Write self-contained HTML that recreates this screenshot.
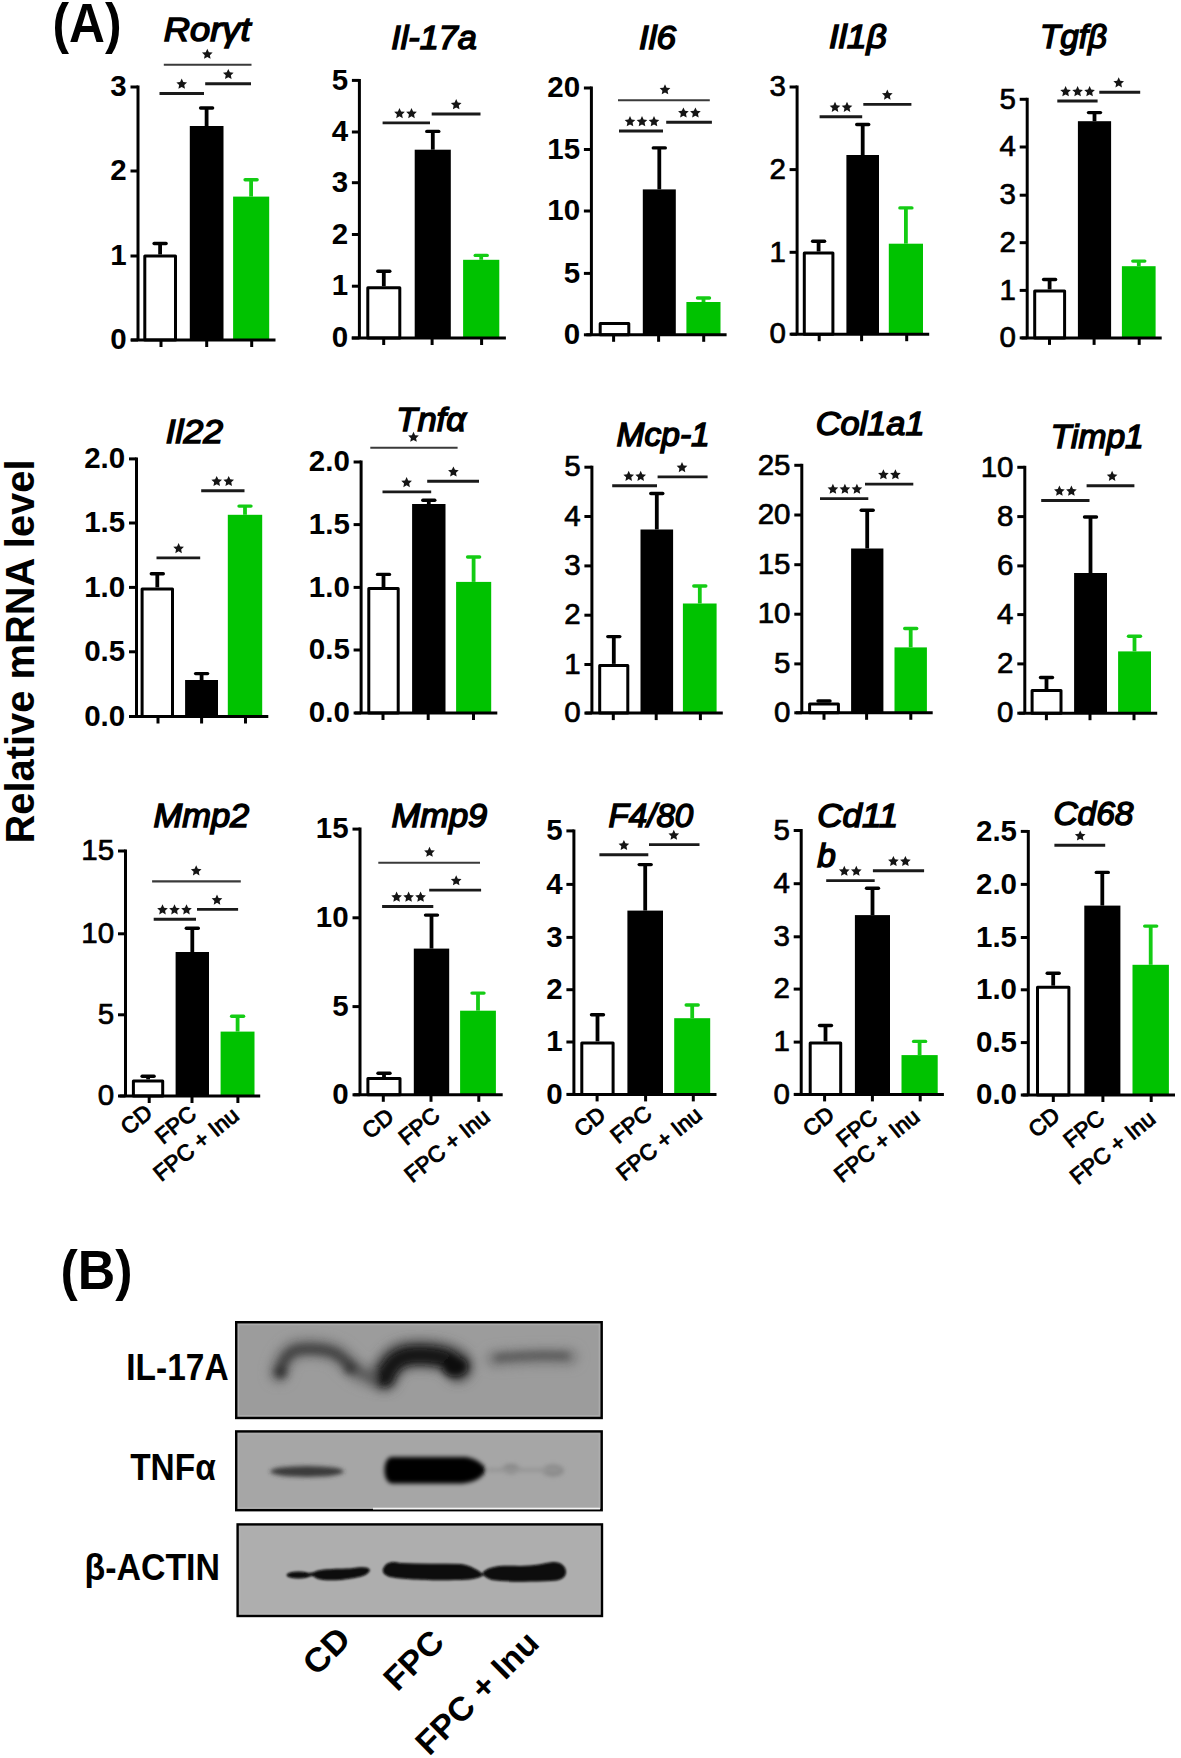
<!DOCTYPE html>
<html><head><meta charset="utf-8"><title>Figure</title>
<style>
html,body{margin:0;padding:0;background:#fff;}
svg{display:block;}
text{font-family:"Liberation Sans",sans-serif;font-weight:bold;fill:#000;}
.ti{font-style:italic;font-size:33.4px;font-weight:normal;stroke:#000;stroke-width:1.5px;}
.tk{font-size:29.5px;text-anchor:end;font-weight:bold;stroke:none;}
.tkn{font-weight:normal;stroke:#000;stroke-width:0.7px;}
.st{font-size:22px;text-anchor:middle;}
.xl{font-size:22.5px;text-anchor:end;font-weight:normal;stroke:#000;stroke-width:0.95px;}
.bx{font-size:33.5px;text-anchor:end;}
.bl{font-size:37px;}
.pl{font-size:55.5px;}
.yl{font-size:41px;}
.ax{stroke:#000;stroke-width:3;fill:none;}
.bw{fill:#fff;stroke:#000;stroke-width:3;stroke-linejoin:round;}
.sg{stroke:#1a1a1a;stroke-width:2.9;fill:none;}
.sgl{stroke:#3a3a3a;stroke-width:2.1;fill:none;}
</style></head>
<body>
<svg width="1181" height="1758" viewBox="0 0 1181 1758">
<rect width="1181" height="1758" fill="#fff"/>
<defs><polygon id="star" points="0.00,-5.10 1.58,-1.67 5.33,-1.23 2.56,1.33 3.29,5.03 0.00,3.19 -3.29,5.03 -2.56,1.33 -5.33,-1.23 -1.58,-1.67" fill="#151515"/></defs>
<text class="ti" x="163.8" y="41.4" textLength="86.8" lengthAdjust="spacingAndGlyphs">Rorγt</text>
<path class="ax" d="M138 85.5V340"/>
<path class="ax" d="M130.5 87H138"/>
<text class="tk" x="126.7" y="96.2">3</text>
<path class="ax" d="M130.5 171H138"/>
<text class="tk" x="126.7" y="180.2">2</text>
<path class="ax" d="M130.5 256H138"/>
<text class="tk" x="126.7" y="265.2">1</text>
<path class="ax" d="M130.5 340H138"/>
<text class="tk" x="126.7" y="349.2">0</text>
<rect class="bw" x="144.8" y="256" width="30.7" height="84"/>
<path d="M160.1 254.5V243.5" stroke="#000" stroke-width="3.8" fill="none"/>
<path d="M154.1 243.5H166.1" stroke="#000" stroke-width="3.4" fill="none" stroke-linecap="round"/>
<rect x="189.8" y="126" width="33.7" height="214" fill="#000"/>
<path d="M206.6 126V108" stroke="#000" stroke-width="3.8" fill="none"/>
<path d="M200.6 108H212.6" stroke="#000" stroke-width="3.4" fill="none" stroke-linecap="round"/>
<rect x="233.1" y="196.6" width="36.1" height="143.4" fill="#00c200"/>
<path d="M251.1 196.6V179.8" stroke="#14cc14" stroke-width="3.8" fill="none"/>
<path d="M245.1 179.8H257.1" stroke="#14cc14" stroke-width="3.4" fill="none" stroke-linecap="round"/>
<path class="ax" d="M131 340H275.5"/>
<path class="ax" d="M161 340V347"/>
<path class="ax" d="M206.7 340V347"/>
<path class="ax" d="M251.7 340V347"/>
<path class="sg" d="M159.5 93.5H204"/>
<use href="#star" x="181.7" y="83.7"/>
<path class="sg" d="M205.2 83.8H251"/>
<use href="#star" x="228.3" y="74"/>
<path class="sgl" d="M163.8 64.8H251.5"/>
<use href="#star" x="207.3" y="53.8"/>
<text class="ti" x="391.2" y="48.5" textLength="85.5" lengthAdjust="spacingAndGlyphs">Il-17a</text>
<path class="ax" d="M359.4 78.9V338"/>
<path class="ax" d="M351.9 80.4H359.4"/>
<text class="tk" x="348.1" y="89.6">5</text>
<path class="ax" d="M351.9 132H359.4"/>
<text class="tk" x="348.1" y="141.2">4</text>
<path class="ax" d="M351.9 182.7H359.4"/>
<text class="tk" x="348.1" y="191.9">3</text>
<path class="ax" d="M351.9 234.5H359.4"/>
<text class="tk" x="348.1" y="243.7">2</text>
<path class="ax" d="M351.9 286.2H359.4"/>
<text class="tk" x="348.1" y="295.4">1</text>
<path class="ax" d="M351.9 338H359.4"/>
<text class="tk" x="348.1" y="347.2">0</text>
<rect class="bw" x="367.8" y="287.7" width="32" height="50.3"/>
<path d="M383.8 286.2V271.2" stroke="#000" stroke-width="3.8" fill="none"/>
<path d="M377.8 271.2H389.8" stroke="#000" stroke-width="3.4" fill="none" stroke-linecap="round"/>
<rect x="414.7" y="149.7" width="36.1" height="188.3" fill="#000"/>
<path d="M432.8 149.7V131.4" stroke="#000" stroke-width="3.8" fill="none"/>
<path d="M426.8 131.4H438.8" stroke="#000" stroke-width="3.4" fill="none" stroke-linecap="round"/>
<rect x="463.1" y="259.8" width="36.2" height="78.2" fill="#00c200"/>
<path d="M481.2 259.8V255.4" stroke="#14cc14" stroke-width="3.8" fill="none"/>
<path d="M475.2 255.4H487.2" stroke="#14cc14" stroke-width="3.4" fill="none" stroke-linecap="round"/>
<path class="ax" d="M351.7 338H505.9"/>
<path class="ax" d="M383.7 338V345"/>
<path class="ax" d="M432.1 338V345"/>
<path class="ax" d="M481.6 338V345"/>
<path class="sg" d="M382.6 122.9H430"/>
<use href="#star" x="399.5" y="113.1"/>
<use href="#star" x="411.5" y="113.1"/>
<path class="sg" d="M431.7 114H480.5"/>
<use href="#star" x="456.2" y="104.2"/>
<text class="ti" x="639" y="48.5" textLength="37" lengthAdjust="spacingAndGlyphs">Il6</text>
<path class="ax" d="M591.4 86.5V334.8"/>
<path class="ax" d="M583.9 88H591.4"/>
<text class="tk" x="580.1" y="97.2">20</text>
<path class="ax" d="M583.9 149.5H591.4"/>
<text class="tk" x="580.1" y="158.7">15</text>
<path class="ax" d="M583.9 211H591.4"/>
<text class="tk" x="580.1" y="220.2">10</text>
<path class="ax" d="M583.9 273.4H591.4"/>
<text class="tk" x="580.1" y="282.6">5</text>
<path class="ax" d="M583.9 334.8H591.4"/>
<text class="tk" x="580.1" y="344">0</text>
<rect class="bw" x="600.2" y="323.5" width="28.6" height="11.3"/>
<rect x="642.8" y="189.4" width="33" height="145.4" fill="#000"/>
<path d="M659.3 189.4V147.9" stroke="#000" stroke-width="3.8" fill="none"/>
<path d="M653.3 147.9H665.3" stroke="#000" stroke-width="3.4" fill="none" stroke-linecap="round"/>
<rect x="686.4" y="302" width="34.1" height="32.8" fill="#00c200"/>
<path d="M703.5 302V298" stroke="#14cc14" stroke-width="3.8" fill="none"/>
<path d="M697.5 298H709.5" stroke="#14cc14" stroke-width="3.4" fill="none" stroke-linecap="round"/>
<path class="ax" d="M586.3 334.8H726.6"/>
<path class="ax" d="M613.6 334.8V341.8"/>
<path class="ax" d="M658.6 334.8V341.8"/>
<path class="ax" d="M703.7 334.8V341.8"/>
<path class="sg" d="M619 131H663"/>
<use href="#star" x="630" y="121.2"/>
<use href="#star" x="642" y="121.2"/>
<use href="#star" x="654" y="121.2"/>
<path class="sg" d="M666.2 122.3H711.9"/>
<use href="#star" x="683.4" y="112.5"/>
<use href="#star" x="695.4" y="112.5"/>
<path class="sgl" d="M618 100.3H709.8"/>
<use href="#star" x="665" y="89.3"/>
<text class="ti" x="828.9" y="48.3" textLength="57.8" lengthAdjust="spacingAndGlyphs">Il1β</text>
<path class="ax" d="M797.1 85.5V334.2"/>
<path class="ax" d="M789.6 87H797.1"/>
<text class="tk tkn" x="785.8" y="96.2">3</text>
<path class="ax" d="M789.6 169.6H797.1"/>
<text class="tk tkn" x="785.8" y="178.8">2</text>
<path class="ax" d="M789.6 252.3H797.1"/>
<text class="tk tkn" x="785.8" y="261.5">1</text>
<path class="ax" d="M789.6 334.2H797.1"/>
<text class="tk tkn" x="785.8" y="343.4">0</text>
<rect class="bw" x="804.3" y="253" width="28.6" height="81.2"/>
<path d="M818.6 251.5V241.2" stroke="#000" stroke-width="3.8" fill="none"/>
<path d="M812.6 241.2H824.6" stroke="#000" stroke-width="3.4" fill="none" stroke-linecap="round"/>
<rect x="846.4" y="155" width="32.6" height="179.2" fill="#000"/>
<path d="M862.7 155V124.5" stroke="#000" stroke-width="3.8" fill="none"/>
<path d="M856.7 124.5H868.7" stroke="#000" stroke-width="3.4" fill="none" stroke-linecap="round"/>
<rect x="888.8" y="243.7" width="34.2" height="90.5" fill="#00c200"/>
<path d="M905.9 243.7V207.9" stroke="#14cc14" stroke-width="3.8" fill="none"/>
<path d="M899.9 207.9H911.9" stroke="#14cc14" stroke-width="3.4" fill="none" stroke-linecap="round"/>
<path class="ax" d="M791 334.2H929.2"/>
<path class="ax" d="M819.2 334.2V341.2"/>
<path class="ax" d="M861.6 334.2V341.2"/>
<path class="ax" d="M906.7 334.2V341.2"/>
<path class="sg" d="M819.6 116.7H862.2"/>
<use href="#star" x="835" y="106.9"/>
<use href="#star" x="847" y="106.9"/>
<path class="sg" d="M863.3 104.4H911.4"/>
<use href="#star" x="887.3" y="94.6"/>
<text class="ti" x="1039.9" y="48.3" textLength="67.1" lengthAdjust="spacingAndGlyphs">Tgfβ</text>
<path class="ax" d="M1027.2 97.8V337.9"/>
<path class="ax" d="M1019.7 99.3H1027.2"/>
<text class="tk tkn" x="1015.9" y="108.5">5</text>
<path class="ax" d="M1019.7 147H1027.2"/>
<text class="tk tkn" x="1015.9" y="156.2">4</text>
<path class="ax" d="M1019.7 195.2H1027.2"/>
<text class="tk tkn" x="1015.9" y="204.4">3</text>
<path class="ax" d="M1019.7 242.7H1027.2"/>
<text class="tk tkn" x="1015.9" y="251.9">2</text>
<path class="ax" d="M1019.7 290.4H1027.2"/>
<text class="tk tkn" x="1015.9" y="299.6">1</text>
<path class="ax" d="M1019.7 337.9H1027.2"/>
<text class="tk tkn" x="1015.9" y="347.1">0</text>
<rect class="bw" x="1034.7" y="290.9" width="29.9" height="47"/>
<path d="M1049.6 289.4V279.5" stroke="#000" stroke-width="3.8" fill="none"/>
<path d="M1043.6 279.5H1055.6" stroke="#000" stroke-width="3.4" fill="none" stroke-linecap="round"/>
<rect x="1077.9" y="121.2" width="33.2" height="216.7" fill="#000"/>
<path d="M1094.5 121.2V112.6" stroke="#000" stroke-width="3.8" fill="none"/>
<path d="M1088.5 112.6H1100.5" stroke="#000" stroke-width="3.4" fill="none" stroke-linecap="round"/>
<rect x="1121.9" y="266.2" width="33.7" height="71.7" fill="#00c200"/>
<path d="M1138.8 266.2V261.1" stroke="#14cc14" stroke-width="3.8" fill="none"/>
<path d="M1132.8 261.1H1144.8" stroke="#14cc14" stroke-width="3.4" fill="none" stroke-linecap="round"/>
<path class="ax" d="M1021.4 337.9H1161.7"/>
<path class="ax" d="M1049.5 337.9V344.9"/>
<path class="ax" d="M1094.1 337.9V344.9"/>
<path class="ax" d="M1139.2 337.9V344.9"/>
<path class="sg" d="M1057.3 101H1097.6"/>
<use href="#star" x="1065.6" y="91.2"/>
<use href="#star" x="1077.6" y="91.2"/>
<use href="#star" x="1089.6" y="91.2"/>
<path class="sg" d="M1099.3 92.2H1140.2"/>
<use href="#star" x="1118.7" y="82.4"/>
<text class="ti" x="165.7" y="442.9" textLength="57.4" lengthAdjust="spacingAndGlyphs">Il22</text>
<path class="ax" d="M136.5 457.4V716.5"/>
<path class="ax" d="M129 458.9H136.5"/>
<text class="tk" x="125.2" y="468.1">2.0</text>
<path class="ax" d="M129 523H136.5"/>
<text class="tk" x="125.2" y="532.2">1.5</text>
<path class="ax" d="M129 587.4H136.5"/>
<text class="tk" x="125.2" y="596.6">1.0</text>
<path class="ax" d="M129 651.8H136.5"/>
<text class="tk" x="125.2" y="661">0.5</text>
<path class="ax" d="M129 716.5H136.5"/>
<text class="tk" x="125.2" y="725.7">0.0</text>
<rect class="bw" x="142.1" y="588.9" width="30.4" height="127.6"/>
<path d="M157.3 587.4V573.7" stroke="#000" stroke-width="3.8" fill="none"/>
<path d="M151.3 573.7H163.3" stroke="#000" stroke-width="3.4" fill="none" stroke-linecap="round"/>
<rect x="185.1" y="680" width="32.9" height="36.5" fill="#000"/>
<path d="M201.6 680V673.6" stroke="#000" stroke-width="3.8" fill="none"/>
<path d="M195.6 673.6H207.6" stroke="#000" stroke-width="3.4" fill="none" stroke-linecap="round"/>
<rect x="227.8" y="514.8" width="34.4" height="201.7" fill="#00c200"/>
<path d="M245 514.8V506.1" stroke="#14cc14" stroke-width="3.8" fill="none"/>
<path d="M239 506.1H251" stroke="#14cc14" stroke-width="3.4" fill="none" stroke-linecap="round"/>
<path class="ax" d="M130.1 716.5H268.3"/>
<path class="ax" d="M158 716.5V723.5"/>
<path class="ax" d="M201.6 716.5V723.5"/>
<path class="ax" d="M245.5 716.5V723.5"/>
<path class="sg" d="M156.5 557.9H200.2"/>
<use href="#star" x="178.6" y="548.1"/>
<path class="sg" d="M201.2 490.8H244.5"/>
<use href="#star" x="216.7" y="481"/>
<use href="#star" x="228.7" y="481"/>
<text class="ti" x="396.3" y="430.7" textLength="69.6" lengthAdjust="spacingAndGlyphs">Tnfα</text>
<path class="ax" d="M361.1 460.5V713"/>
<path class="ax" d="M353.6 462H361.1"/>
<text class="tk" x="349.8" y="471.2">2.0</text>
<path class="ax" d="M353.6 524.6H361.1"/>
<text class="tk" x="349.8" y="533.8">1.5</text>
<path class="ax" d="M353.6 587.4H361.1"/>
<text class="tk" x="349.8" y="596.6">1.0</text>
<path class="ax" d="M353.6 650H361.1"/>
<text class="tk" x="349.8" y="659.2">0.5</text>
<path class="ax" d="M353.6 713H361.1"/>
<text class="tk" x="349.8" y="722.2">0.0</text>
<rect class="bw" x="368.8" y="588.5" width="29.4" height="124.5"/>
<path d="M383.5 587V574.4" stroke="#000" stroke-width="3.8" fill="none"/>
<path d="M377.5 574.4H389.5" stroke="#000" stroke-width="3.4" fill="none" stroke-linecap="round"/>
<rect x="412.1" y="504" width="33.4" height="209" fill="#000"/>
<path d="M428.8 504V500.2" stroke="#000" stroke-width="3.8" fill="none"/>
<path d="M422.8 500.2H434.8" stroke="#000" stroke-width="3.4" fill="none" stroke-linecap="round"/>
<rect x="456.1" y="581.9" width="35.1" height="131.1" fill="#00c200"/>
<path d="M473.6 581.9V557" stroke="#14cc14" stroke-width="3.8" fill="none"/>
<path d="M467.6 557H479.6" stroke="#14cc14" stroke-width="3.4" fill="none" stroke-linecap="round"/>
<path class="ax" d="M355 713H497.3"/>
<path class="ax" d="M383 713V720"/>
<path class="ax" d="M428.2 713V720"/>
<path class="ax" d="M473.5 713V720"/>
<path class="sg" d="M382.5 491.9H431.2"/>
<use href="#star" x="406.6" y="482.1"/>
<path class="sg" d="M427.2 481.3H479"/>
<use href="#star" x="453.4" y="471.5"/>
<path class="sgl" d="M370.3 447.8H457.6"/>
<use href="#star" x="413.5" y="436.8"/>
<text class="ti" x="616.6" y="445.9" textLength="93.1" lengthAdjust="spacingAndGlyphs">Mcp-1</text>
<path class="ax" d="M591.9 465.7V713.1"/>
<path class="ax" d="M584.4 467.2H591.9"/>
<text class="tk tkn" x="580.6" y="476.4">5</text>
<path class="ax" d="M584.4 516.5H591.9"/>
<text class="tk tkn" x="580.6" y="525.7">4</text>
<path class="ax" d="M584.4 565.9H591.9"/>
<text class="tk tkn" x="580.6" y="575.1">3</text>
<path class="ax" d="M584.4 615.2H591.9"/>
<text class="tk tkn" x="580.6" y="624.4">2</text>
<path class="ax" d="M584.4 664.5H591.9"/>
<text class="tk tkn" x="580.6" y="673.7">1</text>
<path class="ax" d="M584.4 713.1H591.9"/>
<text class="tk tkn" x="580.6" y="722.3">0</text>
<rect class="bw" x="599.7" y="665.4" width="28.1" height="47.7"/>
<path d="M613.8 663.9V636.6" stroke="#000" stroke-width="3.8" fill="none"/>
<path d="M607.8 636.6H619.8" stroke="#000" stroke-width="3.4" fill="none" stroke-linecap="round"/>
<rect x="640.5" y="529.5" width="32.6" height="183.6" fill="#000"/>
<path d="M656.8 529.5V493.5" stroke="#000" stroke-width="3.8" fill="none"/>
<path d="M650.8 493.5H662.8" stroke="#000" stroke-width="3.4" fill="none" stroke-linecap="round"/>
<rect x="682.9" y="603.5" width="33.7" height="109.6" fill="#00c200"/>
<path d="M699.8 603.5V586" stroke="#14cc14" stroke-width="3.8" fill="none"/>
<path d="M693.8 586H705.8" stroke="#14cc14" stroke-width="3.4" fill="none" stroke-linecap="round"/>
<path class="ax" d="M585.5 713.1H722.8"/>
<path class="ax" d="M613.3 713.1V720.1"/>
<path class="ax" d="M656.2 713.1V720.1"/>
<path class="ax" d="M700.4 713.1V720.1"/>
<path class="sg" d="M612.2 485.7H657"/>
<use href="#star" x="628.7" y="475.9"/>
<use href="#star" x="640.7" y="475.9"/>
<path class="sg" d="M657.6 476.9H707.6"/>
<use href="#star" x="682" y="467.1"/>
<text class="ti" x="815.7" y="435" textLength="108.8" lengthAdjust="spacingAndGlyphs">Col1a1</text>
<path class="ax" d="M801.8 463.8V712.8"/>
<path class="ax" d="M794.3 465.3H801.8"/>
<text class="tk tkn" x="790.5" y="474.5">25</text>
<path class="ax" d="M794.3 515H801.8"/>
<text class="tk tkn" x="790.5" y="524.2">20</text>
<path class="ax" d="M794.3 564.7H801.8"/>
<text class="tk tkn" x="790.5" y="573.9">15</text>
<path class="ax" d="M794.3 614.2H801.8"/>
<text class="tk tkn" x="790.5" y="623.4">10</text>
<path class="ax" d="M794.3 663.9H801.8"/>
<text class="tk tkn" x="790.5" y="673.1">5</text>
<path class="ax" d="M794.3 712.8H801.8"/>
<text class="tk tkn" x="790.5" y="722">0</text>
<rect class="bw" x="809.6" y="704" width="28.8" height="8.8"/>
<path d="M818 701H830" stroke="#000" stroke-width="3.4" fill="none" stroke-linecap="round"/>
<rect x="851.1" y="548.5" width="32.3" height="164.3" fill="#000"/>
<path d="M867.2 548.5V510.2" stroke="#000" stroke-width="3.8" fill="none"/>
<path d="M861.2 510.2H873.2" stroke="#000" stroke-width="3.4" fill="none" stroke-linecap="round"/>
<rect x="894.5" y="647.4" width="32.4" height="65.4" fill="#00c200"/>
<path d="M910.7 647.4V628.5" stroke="#14cc14" stroke-width="3.8" fill="none"/>
<path d="M904.7 628.5H916.7" stroke="#14cc14" stroke-width="3.4" fill="none" stroke-linecap="round"/>
<path class="ax" d="M796 712.8H932.7"/>
<path class="ax" d="M824 712.8V719.8"/>
<path class="ax" d="M866.6 712.8V719.8"/>
<path class="ax" d="M910.8 712.8V719.8"/>
<path class="sg" d="M820 498.6H868.3"/>
<use href="#star" x="832.9" y="488.8"/>
<use href="#star" x="844.9" y="488.8"/>
<use href="#star" x="856.9" y="488.8"/>
<path class="sg" d="M865 484.1H913.3"/>
<use href="#star" x="883.4" y="474.3"/>
<use href="#star" x="895.4" y="474.3"/>
<text class="ti" x="1050.8" y="447.5" textLength="92.9" lengthAdjust="spacingAndGlyphs">Timp1</text>
<path class="ax" d="M1024.8 465.8V713.2"/>
<path class="ax" d="M1017.3 467.3H1024.8"/>
<text class="tk tkn" x="1013.5" y="476.5">10</text>
<path class="ax" d="M1017.3 516.6H1024.8"/>
<text class="tk tkn" x="1013.5" y="525.8">8</text>
<path class="ax" d="M1017.3 565.9H1024.8"/>
<text class="tk tkn" x="1013.5" y="575.1">6</text>
<path class="ax" d="M1017.3 614.6H1024.8"/>
<text class="tk tkn" x="1013.5" y="623.8">4</text>
<path class="ax" d="M1017.3 663.9H1024.8"/>
<text class="tk tkn" x="1013.5" y="673.1">2</text>
<path class="ax" d="M1017.3 713.2H1024.8"/>
<text class="tk tkn" x="1013.5" y="722.4">0</text>
<rect class="bw" x="1032.1" y="690.5" width="28.9" height="22.7"/>
<path d="M1046.5 689V677.5" stroke="#000" stroke-width="3.8" fill="none"/>
<path d="M1040.5 677.5H1052.5" stroke="#000" stroke-width="3.4" fill="none" stroke-linecap="round"/>
<rect x="1074.1" y="573" width="32.9" height="140.2" fill="#000"/>
<path d="M1090.5 573V517" stroke="#000" stroke-width="3.8" fill="none"/>
<path d="M1084.5 517H1096.5" stroke="#000" stroke-width="3.4" fill="none" stroke-linecap="round"/>
<rect x="1118.1" y="651.4" width="32.9" height="61.8" fill="#00c200"/>
<path d="M1134.5 651.4V636.3" stroke="#14cc14" stroke-width="3.8" fill="none"/>
<path d="M1128.5 636.3H1140.5" stroke="#14cc14" stroke-width="3.4" fill="none" stroke-linecap="round"/>
<path class="ax" d="M1019 713.2H1157.2"/>
<path class="ax" d="M1046.4 713.2V720.2"/>
<path class="ax" d="M1090 713.2V720.2"/>
<path class="ax" d="M1134 713.2V720.2"/>
<path class="sg" d="M1041.2 500.5H1089.5"/>
<use href="#star" x="1059.4" y="490.7"/>
<use href="#star" x="1071.4" y="490.7"/>
<path class="sg" d="M1086.6 485.7H1134.4"/>
<use href="#star" x="1112.1" y="475.9"/>
<text class="ti" x="153.4" y="826.7" textLength="95.9" lengthAdjust="spacingAndGlyphs">Mmp2</text>
<path class="ax" d="M125.5 849.5V1096"/>
<path class="ax" d="M118 851H125.5"/>
<text class="tk tkn" x="114.2" y="860.2">15</text>
<path class="ax" d="M118 933.8H125.5"/>
<text class="tk tkn" x="114.2" y="943">10</text>
<path class="ax" d="M118 1014.8H125.5"/>
<text class="tk tkn" x="114.2" y="1024">5</text>
<path class="ax" d="M118 1096H125.5"/>
<text class="tk tkn" x="114.2" y="1105.2">0</text>
<rect class="bw" x="133.4" y="1080.9" width="29.3" height="15.1"/>
<path d="M148.1 1079.4V1076.2" stroke="#000" stroke-width="3.8" fill="none"/>
<path d="M142.1 1076.2H154.1" stroke="#000" stroke-width="3.4" fill="none" stroke-linecap="round"/>
<rect x="175.6" y="952" width="33.4" height="144" fill="#000"/>
<path d="M192.3 952V928.3" stroke="#000" stroke-width="3.8" fill="none"/>
<path d="M186.3 928.3H198.3" stroke="#000" stroke-width="3.4" fill="none" stroke-linecap="round"/>
<rect x="220.6" y="1031.6" width="33.9" height="64.4" fill="#00c200"/>
<path d="M237.6 1031.6V1016.3" stroke="#14cc14" stroke-width="3.8" fill="none"/>
<path d="M231.6 1016.3H243.6" stroke="#14cc14" stroke-width="3.4" fill="none" stroke-linecap="round"/>
<path class="ax" d="M119.6 1096H260.2"/>
<path class="ax" d="M149.2 1096V1103"/>
<path class="ax" d="M192 1096V1103"/>
<path class="ax" d="M237.9 1096V1103"/>
<path class="sg" d="M153.7 919.2H196"/>
<use href="#star" x="162.5" y="909.4"/>
<use href="#star" x="174.5" y="909.4"/>
<use href="#star" x="186.5" y="909.4"/>
<path class="sg" d="M197 909.4H238.1"/>
<use href="#star" x="217" y="899.6"/>
<path class="sgl" d="M152.1 881.4H240.8"/>
<use href="#star" x="196.2" y="870.4"/>
<text class="xl" transform="translate(153.8 1115.3) rotate(-39)">CD</text>
<text class="xl" transform="translate(197.9 1116.6) rotate(-39)">FPC</text>
<text class="xl" transform="translate(240.5 1118) rotate(-39)">FPC + Inu</text>
<text class="ti" x="391.4" y="826.7" textLength="95.9" lengthAdjust="spacingAndGlyphs">Mmp9</text>
<path class="ax" d="M360 827.6V1094.8"/>
<path class="ax" d="M352.5 829.1H360"/>
<text class="tk" x="348.7" y="838.3">15</text>
<path class="ax" d="M352.5 917.8H360"/>
<text class="tk" x="348.7" y="927">10</text>
<path class="ax" d="M352.5 1006.6H360"/>
<text class="tk" x="348.7" y="1015.8">5</text>
<path class="ax" d="M352.5 1094.8H360"/>
<text class="tk" x="348.7" y="1104">0</text>
<rect class="bw" x="367.9" y="1078.5" width="32.1" height="16.3"/>
<path d="M384 1077V1073.2" stroke="#000" stroke-width="3.8" fill="none"/>
<path d="M378 1073.2H390" stroke="#000" stroke-width="3.4" fill="none" stroke-linecap="round"/>
<rect x="413.8" y="948.6" width="35.4" height="146.2" fill="#000"/>
<path d="M431.5 948.6V915.1" stroke="#000" stroke-width="3.8" fill="none"/>
<path d="M425.5 915.1H437.5" stroke="#000" stroke-width="3.4" fill="none" stroke-linecap="round"/>
<rect x="460.1" y="1010.7" width="35.8" height="84.1" fill="#00c200"/>
<path d="M478 1010.7V993.1" stroke="#14cc14" stroke-width="3.8" fill="none"/>
<path d="M472 993.1H484" stroke="#14cc14" stroke-width="3.4" fill="none" stroke-linecap="round"/>
<path class="ax" d="M353.7 1094.8H502.7"/>
<path class="ax" d="M383.3 1094.8V1101.8"/>
<path class="ax" d="M431 1094.8V1101.8"/>
<path class="ax" d="M478.8 1094.8V1101.8"/>
<path class="sg" d="M382.1 906.5H433.3"/>
<use href="#star" x="396.6" y="896.7"/>
<use href="#star" x="408.6" y="896.7"/>
<use href="#star" x="420.6" y="896.7"/>
<path class="sg" d="M429.2 890.1H481.1"/>
<use href="#star" x="456.2" y="880.3"/>
<path class="sgl" d="M378.3 862.8H480"/>
<use href="#star" x="429.5" y="851.8"/>
<text class="xl" transform="translate(395.3 1119.3) rotate(-39)">CD</text>
<text class="xl" transform="translate(441.4 1118) rotate(-39)">FPC</text>
<text class="xl" transform="translate(491.5 1119.3) rotate(-39)">FPC + Inu</text>
<text class="ti" x="608.6" y="826.7" textLength="84.7" lengthAdjust="spacingAndGlyphs">F4/80</text>
<path class="ax" d="M573.9 829.4V1094.4"/>
<path class="ax" d="M566.4 830.9H573.9"/>
<text class="tk" x="562.6" y="840.1">5</text>
<path class="ax" d="M566.4 884.4H573.9"/>
<text class="tk" x="562.6" y="893.6">4</text>
<path class="ax" d="M566.4 937.4H573.9"/>
<text class="tk" x="562.6" y="946.6">3</text>
<path class="ax" d="M566.4 989.7H573.9"/>
<text class="tk" x="562.6" y="998.9">2</text>
<path class="ax" d="M566.4 1042H573.9"/>
<text class="tk" x="562.6" y="1051.2">1</text>
<path class="ax" d="M566.4 1094.4H573.9"/>
<text class="tk" x="562.6" y="1103.6">0</text>
<rect class="bw" x="581.8" y="1042.9" width="31.3" height="51.5"/>
<path d="M597.5 1041.4V1014.7" stroke="#000" stroke-width="3.8" fill="none"/>
<path d="M591.5 1014.7H603.5" stroke="#000" stroke-width="3.4" fill="none" stroke-linecap="round"/>
<rect x="627.4" y="910.6" width="35.6" height="183.8" fill="#000"/>
<path d="M645.2 910.6V864.6" stroke="#000" stroke-width="3.8" fill="none"/>
<path d="M639.2 864.6H651.2" stroke="#000" stroke-width="3.4" fill="none" stroke-linecap="round"/>
<rect x="674.2" y="1018.2" width="36" height="76.2" fill="#00c200"/>
<path d="M692.2 1018.2V1005" stroke="#14cc14" stroke-width="3.8" fill="none"/>
<path d="M686.2 1005H698.2" stroke="#14cc14" stroke-width="3.4" fill="none" stroke-linecap="round"/>
<path class="ax" d="M567.5 1094.4H716.5"/>
<path class="ax" d="M597.1 1094.4V1101.4"/>
<path class="ax" d="M645.6 1094.4V1101.4"/>
<path class="ax" d="M693.3 1094.4V1101.4"/>
<path class="sg" d="M599.4 854.8H648.3"/>
<use href="#star" x="623.9" y="845"/>
<path class="sg" d="M649 844.6H699.5"/>
<use href="#star" x="673.8" y="834.8"/>
<text class="xl" transform="translate(607.2 1117.5) rotate(-39)">CD</text>
<text class="xl" transform="translate(653.3 1116.2) rotate(-39)">FPC</text>
<text class="xl" transform="translate(703.4 1117.5) rotate(-39)">FPC + Inu</text>
<text class="ti" x="817.3" y="826.7" textLength="80.8" lengthAdjust="spacingAndGlyphs">Cd11</text>
<text class="ti" x="817.3" y="866.6">b</text>
<path class="ax" d="M801.2 829V1094.4"/>
<path class="ax" d="M793.7 830.5H801.2"/>
<text class="tk tkn" x="789.9" y="839.7">5</text>
<path class="ax" d="M793.7 883.7H801.2"/>
<text class="tk tkn" x="789.9" y="892.9">4</text>
<path class="ax" d="M793.7 936.8H801.2"/>
<text class="tk tkn" x="789.9" y="946">3</text>
<path class="ax" d="M793.7 989.1H801.2"/>
<text class="tk tkn" x="789.9" y="998.3">2</text>
<path class="ax" d="M793.7 1042.1H801.2"/>
<text class="tk tkn" x="789.9" y="1051.3">1</text>
<path class="ax" d="M793.7 1094.4H801.2"/>
<text class="tk tkn" x="789.9" y="1103.6">0</text>
<rect class="bw" x="810.2" y="1042.9" width="30.5" height="51.5"/>
<path d="M825.5 1041.4V1025.5" stroke="#000" stroke-width="3.8" fill="none"/>
<path d="M819.5 1025.5H831.5" stroke="#000" stroke-width="3.4" fill="none" stroke-linecap="round"/>
<rect x="854.9" y="915.1" width="35.1" height="179.3" fill="#000"/>
<path d="M872.5 915.1V888.3" stroke="#000" stroke-width="3.8" fill="none"/>
<path d="M866.5 888.3H878.5" stroke="#000" stroke-width="3.4" fill="none" stroke-linecap="round"/>
<rect x="901.5" y="1055.1" width="36.2" height="39.3" fill="#00c200"/>
<path d="M919.6 1055.1V1041.4" stroke="#14cc14" stroke-width="3.8" fill="none"/>
<path d="M913.6 1041.4H925.6" stroke="#14cc14" stroke-width="3.4" fill="none" stroke-linecap="round"/>
<path class="ax" d="M794.4 1094.4H943.9"/>
<path class="ax" d="M824.6 1094.4V1101.4"/>
<path class="ax" d="M872.4 1094.4V1101.4"/>
<path class="ax" d="M920.2 1094.4V1101.4"/>
<path class="sg" d="M826.2 880.6H874.7"/>
<use href="#star" x="844.3" y="870.8"/>
<use href="#star" x="856.3" y="870.8"/>
<path class="sg" d="M872.9 870.8H924.1"/>
<use href="#star" x="893.4" y="861"/>
<use href="#star" x="905.4" y="861"/>
<text class="xl" transform="translate(835.9 1117.3) rotate(-39)">CD</text>
<text class="xl" transform="translate(879.2 1120) rotate(-39)">FPC</text>
<text class="xl" transform="translate(921.2 1119.3) rotate(-39)">FPC + Inu</text>
<text class="ti" x="1053.4" y="824.5" textLength="80.1" lengthAdjust="spacingAndGlyphs">Cd68</text>
<path class="ax" d="M1028.3 829.9V1095"/>
<path class="ax" d="M1020.8 831.4H1028.3"/>
<text class="tk" x="1017" y="840.6">2.5</text>
<path class="ax" d="M1020.8 884.4H1028.3"/>
<text class="tk" x="1017" y="893.6">2.0</text>
<path class="ax" d="M1020.8 937.5H1028.3"/>
<text class="tk" x="1017" y="946.7">1.5</text>
<path class="ax" d="M1020.8 989.8H1028.3"/>
<text class="tk" x="1017" y="999">1.0</text>
<path class="ax" d="M1020.8 1042.6H1028.3"/>
<text class="tk" x="1017" y="1051.8">0.5</text>
<path class="ax" d="M1020.8 1095H1028.3"/>
<text class="tk" x="1017" y="1104.2">0.0</text>
<rect class="bw" x="1037.5" y="987.2" width="31.4" height="107.8"/>
<path d="M1053.2 985.7V973.2" stroke="#000" stroke-width="3.8" fill="none"/>
<path d="M1047.2 973.2H1059.2" stroke="#000" stroke-width="3.4" fill="none" stroke-linecap="round"/>
<rect x="1084.3" y="905.6" width="36.1" height="189.4" fill="#000"/>
<path d="M1102.3 905.6V872.4" stroke="#000" stroke-width="3.8" fill="none"/>
<path d="M1096.3 872.4H1108.3" stroke="#000" stroke-width="3.4" fill="none" stroke-linecap="round"/>
<rect x="1132.5" y="964.8" width="36.4" height="130.2" fill="#00c200"/>
<path d="M1150.7 964.8V926.1" stroke="#14cc14" stroke-width="3.8" fill="none"/>
<path d="M1144.7 926.1H1156.7" stroke="#14cc14" stroke-width="3.4" fill="none" stroke-linecap="round"/>
<path class="ax" d="M1022.6 1095H1175"/>
<path class="ax" d="M1053.3 1095V1102"/>
<path class="ax" d="M1102.9 1095V1102"/>
<path class="ax" d="M1151.2 1095V1102"/>
<path class="sg" d="M1054.4 845.3H1105.2"/>
<use href="#star" x="1080.2" y="835.5"/>
<text class="xl" transform="translate(1061.5 1118) rotate(-39)">CD</text>
<text class="xl" transform="translate(1106.2 1120.7) rotate(-39)">FPC</text>
<text class="xl" transform="translate(1157 1121.4) rotate(-39)">FPC + Inu</text>
<text class="pl" x="52.5" y="42.3" textLength="69" lengthAdjust="spacingAndGlyphs">(A)</text>
<text class="pl" x="60.5" y="1289" textLength="72" lengthAdjust="spacingAndGlyphs">(B)</text>
<text class="yl" transform="translate(34.4 843.5) rotate(-90)" textLength="384" lengthAdjust="spacingAndGlyphs">Relative mRNA level</text>
<defs><filter id="bl" x="-30%" y="-80%" width="160%" height="260%"><feGaussianBlur stdDeviation="3.2"/></filter><filter id="bl2" x="-30%" y="-80%" width="160%" height="260%"><feGaussianBlur stdDeviation="2"/></filter><filter id="bl3" x="-30%" y="-80%" width="160%" height="260%"><feGaussianBlur stdDeviation="1.2"/></filter></defs>
<rect x="236.2" y="1322.2" width="365.5" height="95.8" fill="#9c9c9c" stroke="#000" stroke-width="2.4"/>
<rect x="236.2" y="1431.4" width="365.5" height="78.8" fill="#a6a6a6" stroke="#000" stroke-width="2.4"/>
<rect x="237.6" y="1524.4" width="364.4" height="91.6" fill="#aeaeae" stroke="#000" stroke-width="2.4"/>
<g fill="none" stroke="#b4b4b4" stroke-width="1.2" opacity="0.7"><rect x="238.6" y="1324.6" width="360.7" height="91"/><rect x="238.6" y="1433.8" width="360.7" height="74"/><rect x="240" y="1526.8" width="359.6" height="86.8"/></g>
<defs><filter id="bl4" x="-30%" y="-80%" width="160%" height="260%"><feGaussianBlur stdDeviation="5.5"/></filter><filter id="bl5" x="-30%" y="-80%" width="160%" height="260%"><feGaussianBlur stdDeviation="3.6"/></filter></defs>
<g filter="url(#bl4)" fill="none" stroke-linecap="round"><path d="M279 1373 C 282 1360, 288 1350, 300 1348.5 C 315 1347, 330 1349, 338 1354 C 345 1359, 350 1366, 358 1372 C 366 1376, 372 1378, 380 1378" stroke="#777" stroke-width="20"/><path d="M384 1377 C 389 1364, 396 1357, 406 1355 C 421 1353, 440 1354, 452 1360 C 458 1363, 460 1366, 458 1368" stroke="#4a4a4a" stroke-width="28"/><path d="M494 1359 C 515 1357, 545 1356, 570 1357" stroke="#7e7e7e" stroke-width="17"/></g>
<g filter="url(#bl5)" fill="none" stroke-linecap="round"><path d="M280 1372 C 283 1360, 289 1351, 300 1349.5 C 315 1348, 330 1350, 338 1355 C 345 1360, 350 1366, 357 1371" stroke="#444" stroke-width="10"/><path d="M357 1371 C 366 1376, 372 1378, 380 1378" stroke="#5a5a5a" stroke-width="7"/><circle cx="280.5" cy="1372" r="6.5" fill="#353535" stroke="none"/><circle cx="350" cy="1368" r="6" fill="#3a3a3a" stroke="none"/><path d="M385 1377 C 390 1365, 397 1358, 407 1356 C 421 1354, 440 1355, 451 1361" stroke="#181818" stroke-width="16"/><circle cx="385" cy="1377.5" r="8.5" fill="#141414" stroke="none"/><ellipse cx="455" cy="1366.5" rx="12.5" ry="10" fill="#0e0e0e" stroke="none"/><path d="M498 1358 C 515 1356, 545 1355, 566 1356" stroke="#585858" stroke-width="7"/></g>
<g filter="url(#bl2)"><ellipse cx="307" cy="1471.5" rx="37" ry="5.5" fill="#3a3a3a"/><path d="M392 1457 H 466 C 478 1459, 484 1465, 486 1470 C 483 1477, 476 1482, 462 1483.5 H 392 C 382 1483, 382 1457, 392 1457 Z" fill="#050505"/><ellipse cx="511" cy="1469" rx="9" ry="5" fill="#868686"/><ellipse cx="553" cy="1470.5" rx="11" ry="6" fill="#888"/><path d="M488 1470 H 560" stroke="#959595" stroke-width="4" fill="none"/></g>
<path d="M373 1508.6H600" stroke="#f4f4f4" stroke-width="1.6"/>
<g filter="url(#bl3)" fill="#070707"><ellipse cx="298.5" cy="1575" rx="12" ry="3.6"/><path d="M305 1575 L 316 1574" stroke="#070707" stroke-width="3.5" fill="none"/><path d="M312 1574 C 315 1569, 330 1569, 350 1568.5 C 362 1567, 368 1566.5, 370 1570 C 368 1577, 355 1578, 340 1580 C 325 1581, 314 1580, 312 1574 Z"/><path d="M383 1569 C 386 1562, 392 1561, 400 1563 C 420 1564, 440 1563.5, 460 1564 C 470 1565, 480 1571, 484 1575 C 478 1579, 470 1580, 455 1580 C 430 1581, 400 1579, 390 1577 C 384 1575, 382 1572, 383 1569 Z"/><path d="M483 1572 C 490 1566, 500 1565, 520 1566 C 535 1566, 545 1563, 553 1562 C 562 1562, 566 1567, 566 1572 C 566 1578, 560 1581, 550 1581 C 530 1582, 505 1582, 492 1580 C 486 1578, 482 1575, 483 1572 Z"/></g>
<text class="bl" x="228.6" y="1380" text-anchor="end" textLength="102.3" lengthAdjust="spacingAndGlyphs">IL-17A</text>
<text class="bl" x="215.7" y="1479.5" text-anchor="end" textLength="85.5" lengthAdjust="spacingAndGlyphs">TNFα</text>
<text class="bl" x="220" y="1580" text-anchor="end" textLength="135.5" lengthAdjust="spacingAndGlyphs">β-ACTIN</text>
<text class="bx" transform="translate(352.5 1641) rotate(-45)" textLength="51" lengthAdjust="spacingAndGlyphs">CD</text>
<text class="bx" transform="translate(446 1644) rotate(-45)" textLength="69" lengthAdjust="spacingAndGlyphs">FPC</text>
<text class="bx" transform="translate(541 1645) rotate(-45)" textLength="158" lengthAdjust="spacingAndGlyphs">FPC + Inu</text>
</svg>
</body></html>
